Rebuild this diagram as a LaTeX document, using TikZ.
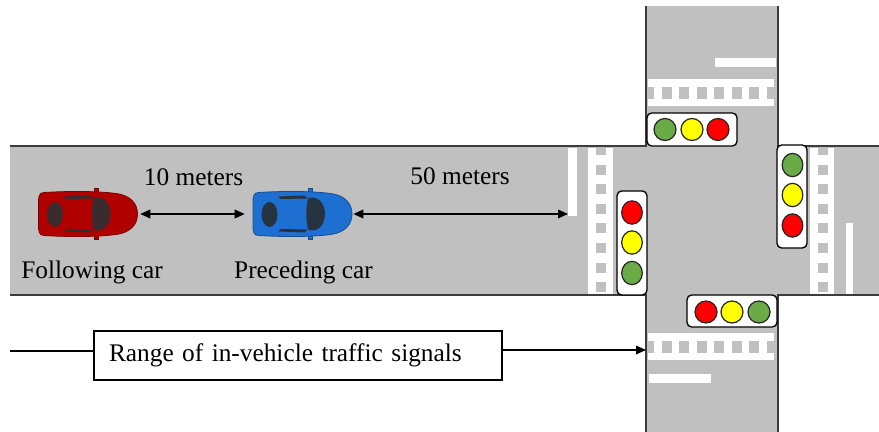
\documentclass[tikz,border=0pt]{standalone}
\usepackage{fontspec}
\setmainfont{Liberation Serif}
\usetikzlibrary{arrows.meta,shapes.geometric}

\definecolor{roadgray}{HTML}{C0C0C0}
\definecolor{roadline}{HTML}{3C3C3C}
\definecolor{lampgreen}{HTML}{6AAB47}
\definecolor{lampyellow}{HTML}{FFFF00}
\definecolor{lampred}{HTML}{FF0000}
\definecolor{redbody}{HTML}{B00000}
\definecolor{redglass}{HTML}{3A2C2E}
\definecolor{bluebody}{HTML}{1D6FD1}
\definecolor{blueglass}{HTML}{263340}

% top view of a car, nose to the right; #1 body colour, #2 glass colour
\tikzset{pics/car/.style 2 args={code={
  \fill[#1, draw=#1!70!black, line width=0.5pt]
    (6,-20.5) rectangle (10,-25.5) (6,20.5) rectangle (10,25.5);
  \fill[#1, draw=#1!70!black, line width=0.6pt]
    (-44,-21.5) .. controls (-49,-21.5) and (-49.5,-17) .. (-49.5,-12)
    -- (-49.5,12) .. controls (-49.5,17) and (-49,21.5) .. (-44,21.5)
    .. controls (-20,23) and (10,23) .. (28,20.5)
    .. controls (43,18.5) and (49.5,10) .. (49.5,0)
    .. controls (49.5,-10) and (43,-18.5) .. (28,-20.5)
    .. controls (10,-23) and (-20,-23) .. (-44,-21.5) -- cycle;
  \fill[#2] (-33,0.5) ellipse [x radius=6pt, y radius=9.4pt];
  \fill[#2] (6,-16) .. controls (16,-18.5) and (22.5,-10) .. (22.5,0)
    .. controls (22.5,10) and (16,18.5) .. (6,16)
    .. controls (3,8) and (3,-8) .. (6,-16) -- cycle;
  \fill[#2] (-24,-17.5) -- (2,-18.5) -- (5,-15.5) -- (-22,-15) -- cycle;
  \fill[#2] (-24,17.5) -- (2,18.5) -- (5,15.5) -- (-22,15) -- cycle;
}}}

\begin{document}
\begin{tikzpicture}[x=0.75pt,y=-0.75pt,
  >={Triangle[length=7.5pt,width=6.5pt]},
  txt/.style={font=\fontsize{19}{22}\selectfont, inner sep=0pt},
  roadedge/.style={draw=roadline, line width=1.4pt},
  paint/.style={fill=white, draw=none, inner sep=0pt},
  lightbox/.style={draw=black, fill=white, line width=1pt, rounded corners=3.5pt, inner sep=0pt},
  lamp/.style={draw=black!85, line width=0.9pt, inner sep=0pt},
  hlamp/.style={lamp, circle, minimum size=16.5pt},
  vlamp/.style={lamp, ellipse, minimum width=15.5pt, minimum height=17.5pt},
  carspot/.style={inner sep=0pt, minimum width=73.5pt, minimum height=32.25pt},
  dimarrow/.style={line width=1.1pt, <->},
  rangeline/.style={line width=1.1pt}]

\useasboundingbox (0,0) rectangle (879,432);
\fill[white] (0,0) rectangle (879,432);

% roads
\fill[roadgray] (10,146) rectangle (879,295);
\fill[roadgray] (646,6) rectangle (778,432);

% crosswalks across the vertical road
\fill[white] (648,79) rectangle (774,106);
\fill[white] (648,333) rectangle (774,360);
\begin{scope}
  \clip (648,87) rectangle (774,99) (648,341) rectangle (774,353);
  \foreach \k in {0,...,7} {
    \fill[roadgray] ({644.2+17.5*\k},87) rectangle ++(10,12);
    \fill[roadgray] ({644.2+17.5*\k},341) rectangle ++(10,12);
  }
\end{scope}

% crosswalks across the horizontal road
\fill[white] (588,148) rectangle (613,294);
\fill[white] (810,148) rectangle (834,294);
\begin{scope}
  \clip (596,148) rectangle (606,294) (818,148) rectangle (828,294);
  \foreach \k in {0,...,7} {
    \fill[roadgray] (596,{145+19.6*\k}) rectangle ++(10,10);
    \fill[roadgray] (818,{145+19.6*\k}) rectangle ++(10,10);
  }
\end{scope}

% stop lines
\fill[white] (715,58) rectangle (776,67);
\fill[white] (649,374) rectangle (711,383);
\fill[white] (846,223) rectangle (853,294);
\node[paint, minimum width=6.75pt, minimum height=51pt, anchor=north west] (wstop) at (568,148) {};

% road edges
\draw[roadedge] (10,146) -- (646,146) -- (646,6);
\draw[roadedge] (778,6) -- (778,146) -- (879,146);
\draw[roadedge] (10,295) -- (646,295) -- (646,432);
\draw[roadedge] (778,432) -- (778,295) -- (879,295);

% traffic lights
\node[lightbox, minimum width=67.5pt, minimum height=24.75pt] (tlN) at (692,129.5) {};
\node[hlamp, fill=lampgreen]  (tlNg) at (665,129.5) {};
\node[hlamp, fill=lampyellow] (tlNy) at (692,129.5) {};
\node[hlamp, fill=lampred]    (tlNr) at (718,129.5) {};

\node[lightbox, minimum width=22.5pt, minimum height=77.25pt] (tlE) at (792,196.5) {};
\node[vlamp, fill=lampgreen]  (tlEg) at (792.5,165) {};
\node[vlamp, fill=lampyellow] (tlEy) at (792.5,195) {};
\node[vlamp, fill=lampred]    (tlEr) at (792.5,225.5) {};

\node[lightbox, minimum width=22.5pt, minimum height=78pt] (tlW) at (632,243) {};
\node[vlamp, fill=lampred]    (tlWr) at (632,212.5) {};
\node[vlamp, fill=lampyellow] (tlWy) at (632,242.5) {};
\node[vlamp, fill=lampgreen]  (tlWg) at (632,273) {};

\node[lightbox, minimum width=67.5pt, minimum height=24pt] (tlS) at (732,311) {};
\node[hlamp, fill=lampred]    (tlSr) at (706,312) {};
\node[hlamp, fill=lampyellow] (tlSy) at (732,312) {};
\node[hlamp, fill=lampgreen]  (tlSg) at (759,312) {};

% cars
\node[carspot] (fcar) at (88,214) {};
\node[carspot] (pcar) at (302.5,214) {};
\pic at (fcar) {car={redbody}{redglass}};
\pic at (pcar) {car={bluebody}{blueglass}};

% distances
\draw[dimarrow, shorten <=2.25pt, shorten >=6.4pt] (fcar.east) -- (pcar.west);
\draw[dimarrow, shorten <=1.2pt] (pcar.east) -- (pcar.east -| wstop.west);
\node[txt, anchor=base] (d10) at (193.5,185) {10 meters};
\node[txt, anchor=base] (d50) at (460,184) {50 meters};
\node[txt, anchor=base] (fl) at (92,278) {Following car};
\node[txt, anchor=base] (pl) at (303.5,278) {Preceding car};

% range of the in-vehicle signals
\node[txt, draw=black, line width=1.6pt, anchor=west, text width=283.5pt,
      inner xsep=11.25pt, minimum height=36.75pt, align=left] (range) at (93,355.5)
      {Range of in-vehicle traffic signals};
\coordinate (rstart) at (10,351);
\coordinate (rend) at (646,350);
\draw[rangeline] (rstart) -- (rstart -| range.west);
\draw[rangeline, ->] (rend -| range.east) -- (rend);

\end{tikzpicture}
\end{document}
